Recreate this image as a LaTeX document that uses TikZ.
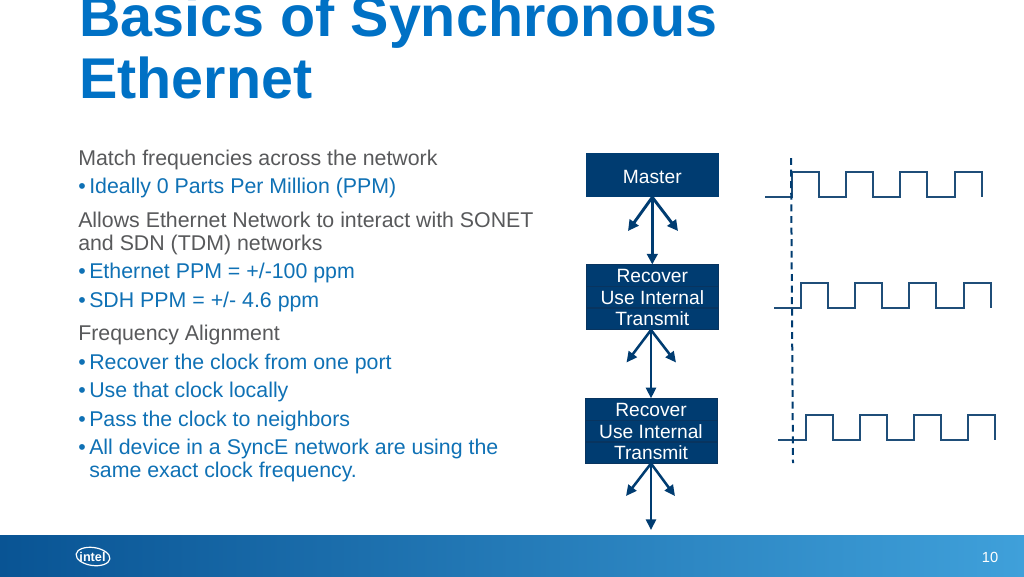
\documentclass[tikz,border=0pt]{standalone}
\usepackage{fontspec}
\setmainfont{Liberation Sans}
\usetikzlibrary{arrows.meta}
\definecolor{navy}{HTML}{003C71}
\definecolor{rowline}{HTML}{08345F}
\definecolor{wave}{HTML}{1F4E79}
\definecolor{gray1}{HTML}{58595B}
\definecolor{blue1}{HTML}{0F71B5}
\definecolor{title1}{HTML}{0071C5}
\definecolor{barL}{HTML}{095494}
\definecolor{barR}{HTML}{3FA0DA}
\tikzset{
  x=0.75pt,y=-0.75pt,
  titletext/.style={anchor=base west,inner sep=0,text=title1,font=\bfseries\fontsize{43.1}{50}\selectfont},
  graytext/.style={anchor=base west,inner sep=0,text=gray1,font=\fontsize{16}{18}\selectfont},
  bluetext/.style={anchor=base west,inner sep=0,text=blue1,font=\fontsize{16}{18}\selectfont},
  box/.style={fill=navy,text=white,inner sep=0,minimum width=99.75pt,font=\fontsize{14.4}{16}\selectfont},
  rowbox/.style={box,draw=rowline,line width=0.4pt,minimum width=99.35pt,text height=13.3pt,text depth=2.6pt},
  link/.style={draw=navy,line width=2.2pt,-{Triangle[length=8pt,width=8pt]}},
  linkb/.style={draw=navy,line width=1.9pt,-{Triangle[length=8pt,width=7.5pt]}},
  wavel/.style={draw=wave,line width=1.5pt,line join=miter},
  tick/.style={draw=navy,line width=1.5pt,dash pattern=on 5.2pt off 3.5pt},
}
\begin{document}
\begin{tikzpicture}
\useasboundingbox (0,0) rectangle (1024,576);
\path[fill=white] (0,0) rectangle (1024,576);
\begin{scope}
\clip (0,0) rectangle (1024,576);
\node[titletext] (t1) at (79,36) {Basics of Synchronous};
\node[titletext] (t2) at (79,98.3) {Ethernet};
\end{scope}
% text
\node[graytext] (a1) at (78,165) {Match frequencies across the network};
\node[bluetext] (b1) at (78,193) {•};
\node[bluetext] (a2) at (89,193) {Ideally 0 Parts Per Million (PPM)};
\node[graytext] (a3) at (78,227) {Allows Ethernet Network to interact with SONET};
\node[graytext] (a4) at (78,250) {and SDN (TDM) networks};
\node[bluetext] (b2) at (78,278) {•};
\node[bluetext] (a5) at (89,278) {Ethernet PPM = +/-100 ppm};
\node[bluetext] (b3) at (78,307) {•};
\node[bluetext] (a6) at (89,307) {SDH PPM = +/- 4.6 ppm};
\node[graytext] (a7) at (78,340) {Frequency Alignment};
\node[bluetext] (b4) at (78,369) {•};
\node[bluetext] (a8) at (89,369) {Recover the clock from one port};
\node[bluetext] (b5) at (78,397) {•};
\node[bluetext] (a9) at (89,397) {Use that clock locally};
\node[bluetext] (b6) at (78,426) {•};
\node[bluetext] (a10) at (89,426) {Pass the clock to neighbors};
\node[bluetext] (b7) at (78,454) {•};
\node[bluetext] (a11) at (89,454) {All device in a SyncE network are using the};
\node[bluetext] (a12) at (89,477) {same exact clock frequency.};
% boxes
\node[box,minimum height=33pt,text height=13pt,text depth=0pt] (master) at (652.3,175) {Master};
\node[rowbox] (r1) at (652.3,275.3) {Recover};
\node[rowbox] (u1) at (652.3,297) {Use Internal};
\node[rowbox] (x1) at (652.3,318.7) {Transmit};
\node[rowbox] (r2) at (651,409.2) {Recover};
\node[rowbox] (u2) at (651,430.9) {Use Internal};
\node[rowbox] (x2) at (651,452.6) {Transmit};
% arrows
\coordinate (l1) at (628,231); \coordinate (q1) at (678,231);
\coordinate (l2) at (626.5,362.5); \coordinate (q2) at (676,362.5);
\coordinate (l3) at (626,496); \coordinate (q3) at (675,496);
\coordinate (e3) at (651,530);
\draw[link] (master.south) -- (r1.north);
\draw[link] (master.south) -- (l1);
\draw[link] (master.south) -- (q1);
\coordinate (apex2) at (651,330);
\draw[linkb] (apex2) -- (r2.north);
\draw[linkb] (apex2) -- (l2);
\draw[linkb] (apex2) -- (q2);
\draw[linkb] (x2.south) -- (e3);
\draw[linkb] (x2.south) -- (l3);
\draw[linkb] (x2.south) -- (q3);
% waves
\draw[wavel] (765,197.3) -- (792,197.3) |- (819,171.7) |- (846,197.3) |- (873,171.7) |- (900,197.3) |- (927,171.7) |- (955,197.3) |- (982,171.7) -- (982,197);
\draw[wavel] (774,308) -- (801,308) |- (828,282.7) |- (855,308) |- (882,282.7) |- (909,308) |- (936,282.7) |- (964,308) |- (991,282.7) -- (991,308);
\draw[wavel] (778,440) -- (806,440) |- (833,414.7) |- (860,440) |- (887,414.7) |- (914,440) |- (941,414.7) |- (968,440) |- (995,414.7) -- (995,440);
\coordinate (d1) at (791,158); \coordinate (d2) at (793,463);
\draw[tick] (d1) -- (d2);
% footer
\path[left color=barL,right color=barR] (0,535) rectangle (1024,576);
\node[inner sep=0,text=white,font=\fontsize{11}{12}\selectfont] (pg) at (990,557) {10};
\node[inner sep=0,text=white,font=\bfseries\fontsize{9.5}{11}\selectfont] (logo) at (92.5,556.5) {intel};
\draw[white,line width=0.9pt,rotate around={-8:(93,556.5)}] (93,556.5) ellipse (17 and 9);
\end{tikzpicture}
\end{document}
